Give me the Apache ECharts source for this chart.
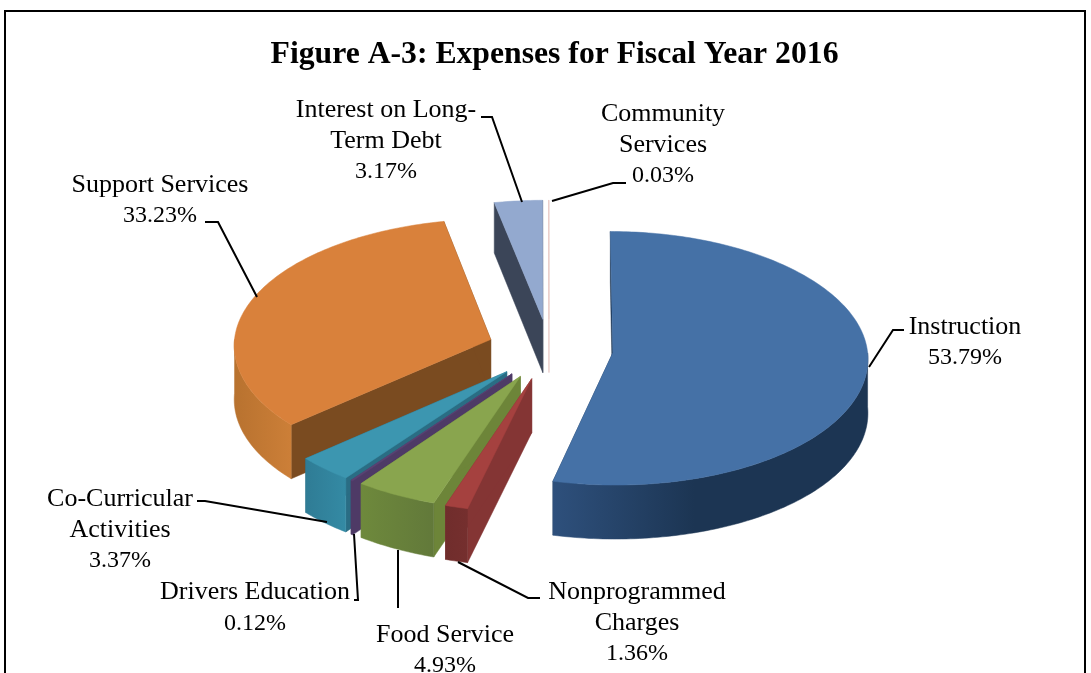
<!DOCTYPE html>
<html><head><meta charset="utf-8">
<style>html,body{margin:0;padding:0;background:#fff}#c{width:1091px;height:673px}</style>
<script src="https://cdn.jsdelivr.net/npm/echarts@6/dist/echarts.min.js"></script>
</head><body><div id="c"></div>
<script>
// ---- data ----
const titleText = 'Figure A-3: Expenses for Fiscal Year 2016';
const categories = ['Instruction','Nonprogrammed\nCharges','Food Service','Drivers Education','Co-Curricular\nActivities','Support Services','Interest on Long-\nTerm Debt','Community\nServices'];
const shares = [53.79,1.36,4.93,0.12,3.37,33.23,3.17,0.03];

// ---- styling ----
const topColors  = ['#4571A6','#A5413F','#89A54E','#5B4374','#3C96B0','#D9813B','#93A9CF','#EBCFCB'];
const wallColors = ['#1B3452','#843534','#6D8539','#4E3A66','#2A6D84','#7A4B20','#3B4558','#EBCFCB'];
const arcColors  = [['#2E507C','#1C3553'],['#702D2C','#752F2E'],['#6E893C','#62793A'],['#4E3A66','#4E3A66'],['#2F7C95','#348AA4'],['#B8722F','#CC7F38'],['#3B4558','#3B4558'],['#EBCFCB','#EBCFCB']];
const labelCentres = [[965,342.5],[637,623],[445,650.5],[255,608],[120,530],[160,200.5],[386,141],[663,145]];
const leaderPaths = [
 [[869,367],[893,330],[904,330]],
 [[458,562],[528,598],[540,598]],
 [[398,550],[398,608]],
 [[354,534],[358,600],[354,600]],
 [[327,522],[205,501],[197,501]],
 [[257,297],[218,222],[205,222]],
 [[522,202],[492,117],[481,117]],
 [[552,201],[613,183],[626,183]]
];
const drawOrder = [5,6,7,0,4,3,2,1];
const explodeBySlice = [0.25,0.24,0.24,0.24,0.24,0.24,0.24,0.24];
const rimWidthBySlice = [0.99,1,1,1,1,1,1,1];

// ---- projection ----
const CX=549, R=257;
function project(X,Y){            // X,Y in pie radii, Y towards the viewer
  const s=1+0.04*Y;
  return [CX+X*R*s, 349+(Y<0?125:128)*Y+4*Y*Y];
}
function depth(Y){return Y<0?54+3*Y:54;}
const rad=d=>d*Math.PI/180;

function sliceShapes(i){
  const total=shares.reduce((a,b)=>a+b,0);
  let acc=0; for(let k=0;k<i;k++) acc+=shares[k];
  const a0=acc/total*360, a1=(acc+shares[i])/total*360, mid=(a0+a1)/2;
  const E=explodeBySlice[i], W=rimWidthBySlice[i];
  const ox=E*Math.sin(rad(mid)), oy=-E*Math.cos(rad(mid));
  const world=a=>[ox+W*Math.sin(rad(a)),oy-Math.cos(rad(a))];
  const P=w=>project(w[0],w[1]);
  const D=w=>{const p=project(w[0],w[1]);return [p[0],p[1]+depth(w[1])];};
  const apex=[ox,oy], rim=[];
  const n=Math.max(2,Math.ceil(a1-a0));
  for(let k=0;k<=n;k++) rim.push(a0+(a1-a0)*k/n);
  const kids=[];
  const poly=(pts,fill)=>kids.push({type:'polygon',shape:{points:pts},style:{fill:fill,stroke:fill,lineWidth:0.5},silent:true});
  [a0,a1].forEach(a=>{
    const w=world(a);
    poly([P(apex),P(w),D(w),D(apex)],wallColors[i]);
  });
  const f0=Math.max(a0,90), f1=Math.min(a1,270);
  if(f1>f0){
    const pts=[], back=[];
    const m=Math.max(2,Math.ceil(f1-f0));
    for(let k=0;k<=m;k++){const w=world(f0+(f1-f0)*k/m);pts.push(P(w));back.unshift(D(w));}
    const xs=pts.map(p=>p[0]);
    const lo=Math.min.apply(null,xs),hi=Math.max.apply(null,xs);
    const span=(i===0)?lo+(hi-lo)*0.45:hi;
    poly(pts.concat(back),new echarts.graphic.LinearGradient(lo,0,span,0,[{offset:0,color:arcColors[i][0]},{offset:1,color:arcColors[i][1]}],true));
  }
  poly([P(apex)].concat(rim.map(a=>P(world(a)))),topColors[i]);
  return kids;
}

const chart=echarts.init(document.getElementById('c'),null,{renderer:'canvas'});
chart.setOption({
  animation:false,
  backgroundColor:'#fff',
  title:{text:titleText,left:549.5,top:34,textAlign:'center',
    textStyle:{fontFamily:'"Liberation Serif"',fontWeight:'bold',fontSize:31.7,color:'#000'}},
  graphic:[{type:'polyline',silent:true,shape:{points:[[5,673],[5,11],[1085,11],[1085,673]]},style:{stroke:'#000',lineWidth:2,fill:null}}],
  series:[
    {type:'custom',coordinateSystem:'none',silent:true,
     data:drawOrder.map(i=>[i,shares[i]]),
     renderItem:(p,api)=>({type:'group',children:sliceShapes(api.value(0))})},
    {type:'custom',coordinateSystem:'none',silent:true,z:5,
     data:categories.map((c,i)=>[i,shares[i]]),
     renderItem:(p,api)=>{
       const i=api.value(0);
       const nameLines=categories[i].split('\n').map(l=>'{n|'+l+'}');
       return {type:'group',children:[
         {type:'polyline',shape:{points:leaderPaths[i]},style:{stroke:'#000',lineWidth:2,fill:null}},
         {type:'text',x:labelCentres[i][0],y:labelCentres[i][1],
          style:{text:nameLines.join('\n')+'\n{p|'+api.value(1).toFixed(2)+'%}',align:'center',verticalAlign:'middle',
            fontFamily:'"Liberation Serif"',fill:'#000',
            rich:{n:{fontFamily:'"Liberation Serif"',fontSize:26,lineHeight:31,fill:'#000'},
                  p:{fontFamily:'"Liberation Serif"',fontSize:24,lineHeight:31,fill:'#000'}}}}
       ]};
     }}
  ]
});
</script></body></html>
